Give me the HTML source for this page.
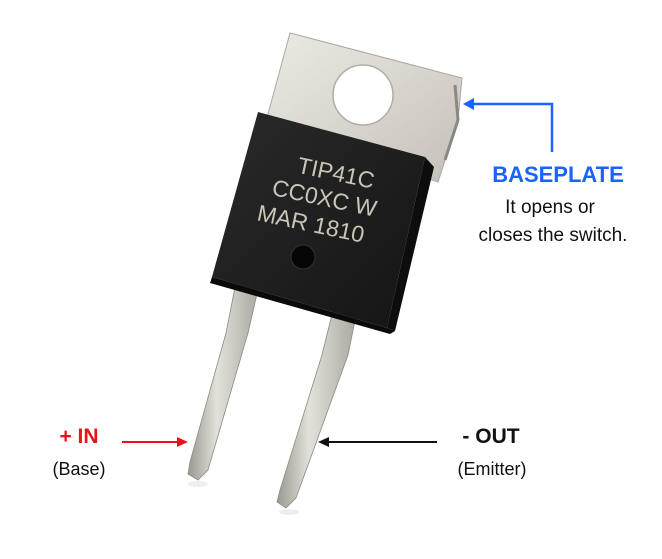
<!DOCTYPE html>
<html><head><meta charset="utf-8"><style>
html,body{margin:0;padding:0;background:#fff;}
svg{display:block;}
text{font-family:"Liberation Sans",sans-serif;}
</style></head><body>
<svg width="662" height="559" viewBox="0 0 662 559" xmlns="http://www.w3.org/2000/svg">
<defs>
<linearGradient id="metal" x1="0" y1="0" x2="1" y2="1">
<stop offset="0" stop-color="#eceae4"/><stop offset="0.5" stop-color="#d8d6cf"/><stop offset="1" stop-color="#c2c0b8"/>
</linearGradient>
<linearGradient id="lead" x1="0" y1="0" x2="1" y2="0">
<stop offset="0" stop-color="#9a988f"/><stop offset="0.4" stop-color="#e2e1db"/><stop offset="1" stop-color="#a8a69e"/>
</linearGradient>
<linearGradient id="body" x1="0" y1="0" x2="1" y2="1">
<stop offset="0" stop-color="#2a2a2a"/><stop offset="1" stop-color="#141414"/>
</linearGradient>
</defs>
<ellipse cx="198" cy="484" rx="10" ry="3" fill="#eee"/>
<ellipse cx="289" cy="512" rx="10" ry="3" fill="#eee"/>
<!-- tab -->
<path d="M290,33 L462,78 L458,120 L438,182 L265,125 Z" fill="url(#metal)" stroke="#a9a79f" stroke-width="1"/>
<path d="M455,85 L458,120 L445,160" fill="none" stroke="#8a887f" stroke-width="3"/>
<circle cx="363" cy="95" r="30" fill="#fff" stroke="#b0aea6" stroke-width="1.5"/>
<!-- leads -->
<path d="M237,277 L260,281 L248,333 L208,470 L198,480 L188,474 L190,462 L226,333 Z" fill="url(#lead)" stroke="#8d8b83" stroke-width="0.8"/>
<path d="M335,302 L358,306 L348,355 L296,498 L286,508 L277,502 L280,490 L322,355 Z" fill="url(#lead)" stroke="#8d8b83" stroke-width="0.8"/>
<!-- body side -->
<path d="M425,157 L434,167 L395,331 L387,328 Z" fill="#0d0d0d"/>
<path d="M212,277 L387,328 L395,331 L390,334 L210,283 Z" fill="#0a0a0a"/>
<!-- body front -->
<path d="M258,112 L425,157 L387,328 L212,277 Z" fill="url(#body)"/>
<g transform="rotate(12 320 200)" fill="#c9c6b8" font-family="Liberation Mono, monospace" font-size="23">
<text x="330" y="178" text-anchor="middle">TIP41C</text>
<text x="324" y="205" text-anchor="middle">CC0XC W</text>
<text x="316" y="233" text-anchor="middle">MAR 1810</text>
</g>
<circle cx="303" cy="257" r="12" fill="#050505" stroke="#333" stroke-width="1"/>
<!-- blue connector -->
<path d="M552,152 L552,104 L470,104" fill="none" stroke="#1a63ff" stroke-width="2.5"/>
<path d="M463,104 L474,98 L474,110 Z" fill="#1a63ff"/>
<text x="558" y="182" text-anchor="middle" fill="#1a63ff" font-size="22" font-weight="bold">BASEPLATE</text>
<text x="550" y="213" text-anchor="middle" fill="#111" font-size="19">It opens or</text>
<text x="553" y="241" text-anchor="middle" fill="#111" font-size="19">closes the switch.</text>
<!-- red arrow -->
<path d="M122,442 L180,442" stroke="#e8141c" stroke-width="2"/>
<path d="M188,442 L177,437 L177,447 Z" fill="#e8141c"/>
<text x="79" y="443" text-anchor="middle" fill="#e8141c" font-size="21" font-weight="bold">+ IN</text>
<text x="79" y="475" text-anchor="middle" fill="#111" font-size="18">(Base)</text>
<!-- black arrow -->
<path d="M437,442 L326,442" stroke="#111" stroke-width="2"/>
<path d="M318,442 L329,437 L329,447 Z" fill="#111"/>
<text x="491" y="443" text-anchor="middle" fill="#111" font-size="21" font-weight="bold">- OUT</text>
<text x="492" y="475" text-anchor="middle" fill="#111" font-size="18">(Emitter)</text>
</svg>
</body></html>
